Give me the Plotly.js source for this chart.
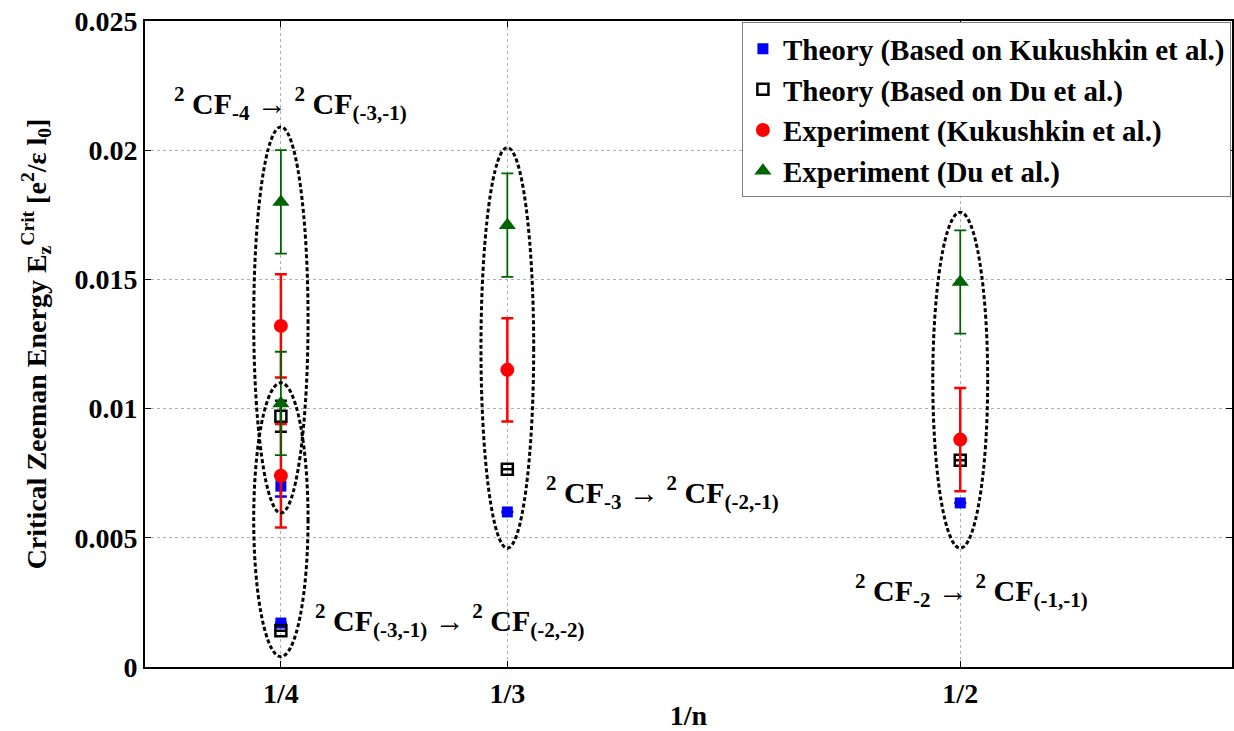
<!DOCTYPE html>
<html>
<head>
<meta charset="utf-8">
<script src="https://cdn.plot.ly/plotly-3.0.1.min.js"></script>
<style>html,body{margin:0;padding:0;background:#fff}#chart{width:1234px;height:731px}</style>
</head>
<body>
<div id="chart"></div>
<script>
// ---- data ----
const xValues = [1/4, 1/4, 1/3, 1/2];
const tickValues = [1/4, 1/3, 1/2];
const tickLabels = ['1/4', '1/3', '1/2'];

const theoryKukushkin = [0.0070, 0.0017, 0.0060, 0.00635];
const theoryKukushkinErr = [0.0004, null, null, null];
const theoryDu = [0.0097, 0.0014, 0.00765, 0.0080];
const theoryDuErr = [0.0006, null, null, null];
const expKukushkin = [0.0132, 0.0074, 0.0115, 0.0088];
const expKukushkinErr = [0.002, 0.002, 0.002, 0.002];
const expDu = [0.0180, 0.0102, 0.0171, 0.0149];
const expDuErr = [0.002, 0.002, 0.002, 0.002];

// dashed ellipses grouping transitions: [xCenter, halfWidth, yLow, yHigh]
const ellipses = [
  [1/4, 0.0100, 0.00596, 0.0209],
  [1/4, 0.0100, 0.0004, 0.0110],
  [1/3, 0.0097, 0.0046, 0.0201],
  [1/2, 0.0101, 0.0046, 0.0176]
];

// transition labels: [text, x, y]
const labels = [
  ['<sup>2</sup> CF<sub>-4</sub> → <sup>2</sup> CF<sub>(-3,-1)</sub>', 0.2099, 0.0218],
  ['<sup>2</sup> CF<sub>(-3,-1)</sub> → <sup>2</sup> CF<sub>(-2,-2)</sub>', 0.2617, 0.0018],
  ['<sup>2</sup> CF<sub>-3</sub> → <sup>2</sup> CF<sub>(-2,-1)</sub>', 0.3468, 0.00675],
  ['<sup>2</sup> CF<sub>-2</sub> → <sup>2</sup> CF<sub>(-1,-1)</sub>', 0.4606, 0.00295]
];

const FONT = 'Liberation Serif';

const traces = [
  {
    x: xValues, y: theoryKukushkin, type: 'scatter', mode: 'markers',
    name: '<b>Theory (Based on Kukushkin et al.)</b>',
    marker: {symbol: 'square', size: 11, color: '#0000ff'},
    error_y: {type: 'data', array: theoryKukushkinErr, color: '#0000ff', thickness: 2.5, width: 6}
  },
  {
    x: xValues, y: theoryDu, type: 'scatter', mode: 'markers',
    name: '<b>Theory (Based on Du et al.)</b>',
    marker: {symbol: 'square-open', size: 11, color: '#000000', line: {width: 2.5}},
    error_y: {type: 'data', array: theoryDuErr, color: '#000000', thickness: 2.5, width: 6}
  },
  {
    x: xValues, y: expKukushkin, type: 'scatter', mode: 'markers',
    name: '<b>Experiment (Kukushkin et al.)</b>',
    marker: {symbol: 'circle', size: 14, color: '#ff0000'},
    error_y: {type: 'data', array: expKukushkinErr, color: '#ff0000', thickness: 2.5, width: 6}
  },
  {
    x: xValues, y: expDu, type: 'scatter', mode: 'markers',
    name: '<b>Experiment (Du et al.)</b>',
    marker: {symbol: 'triangle-up', size: 15, color: '#006400'},
    error_y: {type: 'data', array: expDuErr, color: '#006400', thickness: 1.8, width: 6}
  }
];

const shapes = ellipses.map(e => ({
  type: 'circle', xref: 'x', yref: 'y',
  x0: e[0] - e[1], x1: e[0] + e[1], y0: e[2], y1: e[3],
  line: {color: '#000', width: 3, dash: '4px,2.5px'}
}));

const annotations = labels.map(l => ({
  text: '<b>' + l[0] + '</b>', x: l[1], y: l[2], xref: 'x', yref: 'y',
  xanchor: 'left', yanchor: 'middle', showarrow: false,
  font: {family: FONT, size: 30, color: '#000'}
}));

const layout = {
  width: 1234, height: 731,
  margin: {l: 145, r: 2, t: 21, b: 64},
  paper_bgcolor: '#fff', plot_bgcolor: '#fff',
  font: {family: FONT, size: 28, color: '#000'},
  showlegend: true,
  legend: {
    x: 0.999, y: 0.998, xanchor: 'right', yanchor: 'top',
    bgcolor: '#fff', bordercolor: '#808080', borderwidth: 1,
    font: {family: FONT, size: 29, color: '#000'},
    tracegroupgap: 0
  },
  xaxis: {
    range: [0.2, 0.6], tickmode: 'array', tickvals: tickValues, ticktext: tickLabels.map(t => '<b>' + t + '</b>'),
    showgrid: true, gridcolor: '#b0b0b0', griddash: 'dot', gridwidth: 1,
    zeroline: false, showline: true, linecolor: '#000', linewidth: 2, mirror: 'ticks',
    ticks: 'inside', ticklen: 6, tickcolor: '#000', tickwidth: 1,
    tickfont: {family: FONT, size: 28},
    title: {text: '<b>1/n</b>', font: {family: FONT, size: 28}, standoff: 2}
  },
  yaxis: {
    range: [0, 0.025], tickmode: 'array',
    tickvals: [0, 0.005, 0.01, 0.015, 0.02, 0.025],
    ticktext: ['<b>0</b>', '<b>0.005</b>', '<b>0.01</b>', '<b>0.015</b>', '<b>0.02</b>', '<b>0.025</b>'],
    showgrid: true, gridcolor: '#b0b0b0', griddash: 'dot', gridwidth: 1,
    zeroline: false, showline: true, linecolor: '#000', linewidth: 2, mirror: 'ticks',
    ticks: 'inside', ticklen: 6, tickcolor: '#000', tickwidth: 1,
    tickfont: {family: FONT, size: 28},
    title: {text: '<b>Critical Zeeman Energy E<sub>z</sub><sup>Crit</sup> [e<sup>2</sup>/ε l<sub>0</sub>]</b>', font: {family: FONT, size: 28}, standoff: 20}
  },
  shapes: shapes,
  annotations: annotations
};

Plotly.newPlot('chart', traces, layout, {displayModeBar: false, staticPlot: true});
</script>
</body>
</html>
